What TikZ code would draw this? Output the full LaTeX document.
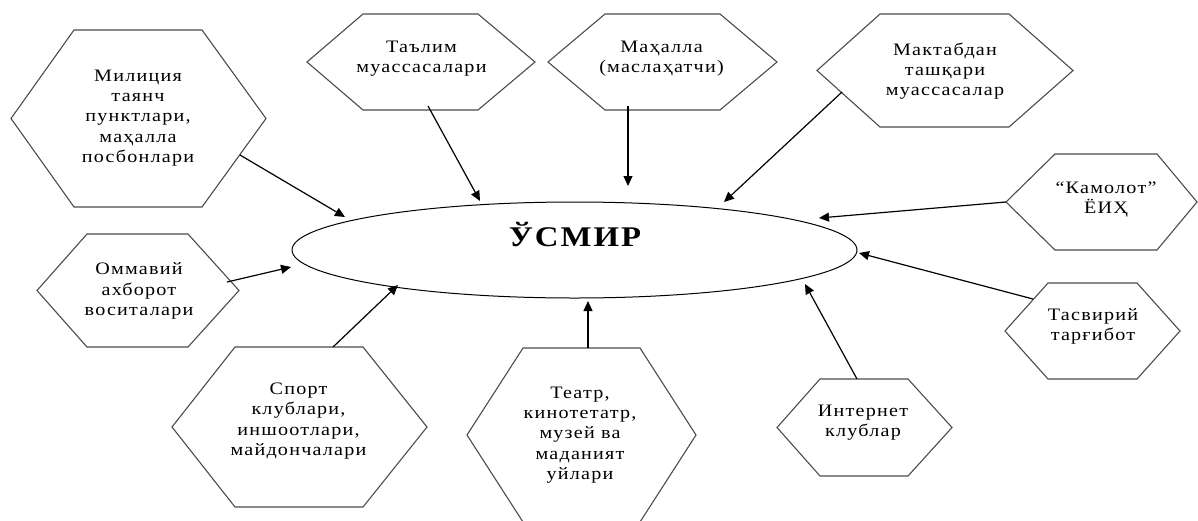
\documentclass[tikz,border=0pt]{standalone}
\usepackage{fontspec}
\setmainfont{Liberation Serif}[LetterSpace=7,FakeStretch=1.15]
\usetikzlibrary{shapes.geometric,arrows.meta}
% xl xa xb xr yt yb
\newcommand\hexshape[6]{%
  \draw[hexline] (#1,{(#5+#6)/2}) -- (#2,#5) -- (#3,#5) -- (#4,{(#5+#6)/2}) -- (#3,#6) -- (#2,#6) -- cycle;}
\begin{document}
\begin{tikzpicture}[x=1pt,y=-1pt,
  hexline/.style={draw=black!70,line width=1.1pt,line join=miter},
  arr/.style={-{Triangle[length=10pt,width=9pt]},line width=1.2pt,draw=black},
  txt/.style={align=center,inner sep=0pt,font=\fontsize{17.5pt}{20.2pt}\selectfont}]
\useasboundingbox (0,0) rectangle (1198,520);
\fill[white] (0,0) rectangle (1198,520);

% hexagons
\hexshape{11}{74}{202}{266}{30}{207}
\hexshape{307}{363}{478}{535}{14}{110}
\hexshape{548}{605}{720}{777}{14}{110}
\hexshape{817}{880}{1009}{1073}{14}{127}
\hexshape{1006}{1055}{1157}{1197}{154}{250}
\hexshape{1005}{1048}{1137}{1180}{283}{379}
\hexshape{777}{820}{908}{952}{379}{476}
\hexshape{467}{523}{640}{696}{348}{522}
\hexshape{172}{235}{363}{427}{347}{507}
\hexshape{37}{87}{188}{239}{234}{347}

% texts
\node[txt] (mil) at (138,118) {Милиция\\таянч\\пунктлари,\\маҳалла\\посбонлари};
\node[txt] (tal) at (421.5,58.5) {Таълим\\муассасалари};
\node[txt] (mah) at (661.5,58.5) {Маҳалла\\(маслаҳатчи)};
\node[txt] (mak) at (945,71) {Мактабдан\\ташқари\\муассасалар};
\node[txt] (kam) at (1106,199.5) {“Камолот”\\ЁИҲ};
\node[txt] (tas) at (1093,326) {Тасвирий\\тарғибот};
\node[txt] (int) at (863,423) {Интернет\\клублар};
\node[txt] (tea) at (580,435) {Театр,\\кинотетатр,\\музей ва\\маданият\\уйлари};
\node[txt] (spo) at (298.5,421) {Спорт\\клублари,\\иншоотлари,\\майдончалари};
\node[txt] (omm) at (139,291) {Оммавий\\ахборот\\воситалари};

% central ellipse
\node[ellipse,draw=black,line width=1pt,minimum width=565pt,minimum height=96pt,inner sep=0pt] (usmir) at (574.5,250) {};
\node[anchor=base,inner sep=0pt,font=\fontsize{28.5pt}{30pt}\selectfont\bfseries] (usmirlbl) at (575,246) {ЎСМИР};

% connector end points
\coordinate (mil-s) at (240,155);  \coordinate (mil-t) at (345,217);
\coordinate (tal-s) at (428,106);  \coordinate (tal-t) at (480,201);
\coordinate (mah-s) at (628,106);  \coordinate (mah-t) at (628,186);
\coordinate (mak-s) at (842,92);   \coordinate (mak-t) at (724,202);
\coordinate (kam-s) at (1006,202); \coordinate (kam-t) at (819,218);
\coordinate (tas-s) at (1033,299); \coordinate (tas-t) at (859,253);
\coordinate (int-s) at (857,379);  \coordinate (int-t) at (805,284);
\coordinate (tea-s) at (588,348);  \coordinate (tea-t) at (588,301);
\coordinate (spo-s) at (333,347);  \coordinate (spo-t) at (398,285);
\coordinate (omm-s) at (227,282);  \coordinate (omm-t) at (291,267);

\draw[arr] (mil-s) -- (mil-t);
\draw[arr] (tal-s) -- (tal-t);
\draw[arr] (mah-s) -- (mah-t);
\draw[arr] (mak-s) -- (mak-t);
\draw[arr] (kam-s) -- (kam-t);
\draw[arr] (tas-s) -- (tas-t);
\draw[arr] (int-s) -- (int-t);
\draw[arr] (tea-s) -- (tea-t);
\draw[arr] (spo-s) -- (spo-t);
\draw[arr] (omm-s) -- (omm-t);
\end{tikzpicture}
\end{document}
